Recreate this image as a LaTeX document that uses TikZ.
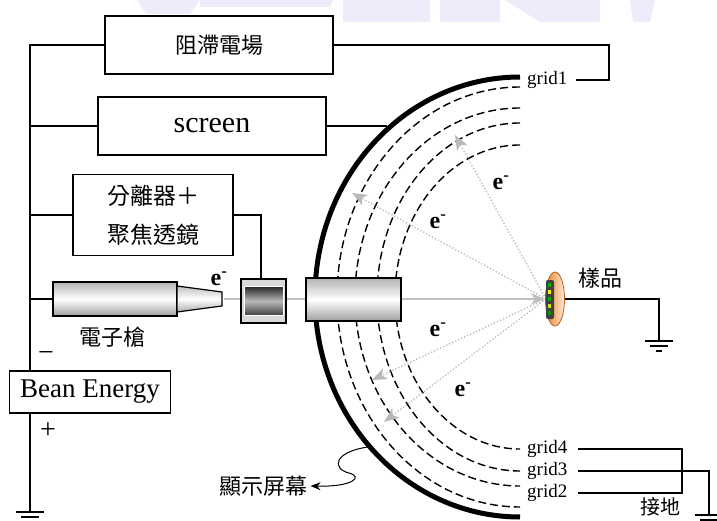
\documentclass[tikz,border=0pt]{standalone}
\usepackage{fontspec}
\setmainfont{Liberation Serif}
\newfontfamily\cjk{Noto Sans CJK TC}
\usetikzlibrary{arrows.meta,shapes.geometric}

\definecolor{amber}{RGB}{238,128,32}
\definecolor{haze}{RGB}{236,236,251}

\begin{document}
\begin{tikzpicture}[x=1pt, y=-1pt,
    box/.style={draw, line width=1.2pt, fill=white, align=center},
    wire/.style={line width=1.2pt},
    lead/.style={wire, shorten <=10pt},
    grid/.style={line width=1.4pt, dash pattern=on 8pt off 4pt},
    cyl/.style={draw, line width=1.2pt, inner sep=0pt, top color=gray!60, bottom color=gray!75, middle color=white},
    beam/.style={draw=gray!50, line width=2pt, -{Stealth[length=14pt, width=11pt, inset=4pt]}},
    ray/.style={draw=gray!55, line width=1.3pt, dotted, -{Stealth[length=15pt, width=12pt, inset=4pt]}},
    elab/.style={font=\fontsize{24}{24}\selectfont\bfseries},
    glab/.style={font=\fontsize{19}{20}\selectfont, anchor=west, inner sep=0pt},
    zh/.style={font=\fontsize{22}{24}\selectfont\cjk},
    gnd/.pic={\draw[wire] (-14,0) -- (14,0) (-9,5) -- (9,5) (-3,10) -- (3,10);}
  ]
  \useasboundingbox (0,0) rectangle (717,521);

  % faded lettering along the top edge
  \fill[haze] (137,0) -- (200,0) -- (190,14) -- (146,14) -- cycle;
  \fill[haze] (200,0) -- (333,0) -- (330,7) -- (200,7) -- cycle;
  \fill[haze] (343,0) -- (430,0) -- (430,22) -- (343,22) -- cycle;
  \fill[haze] (440,0) -- (500,0) -- (500,22) -- (440,22) -- cycle;
  \fill[haze] (505,0) -- (600,0) -- (600,22) -- (540,22) -- cycle;
  \fill[haze] (630,0) -- (655,0) -- (650,22) -- (633,22) -- cycle;

  % screen and the four grids
  \draw[line width=5pt] (520,77) arc[start angle=90, end angle=270, x radius=205pt, y radius=220pt];
  \foreach \rx/\ry in {183/210, 165/189, 143/174, 125/152}
    \draw[grid] (520,297-\ry) arc[start angle=90, end angle=270, x radius=\rx pt, y radius=\ry pt];

  % electron paths
  \coordinate (tip) at (224,299);
  \coordinate (hit) at (546,299);
  \coordinate (t1) at (455,135);
  \coordinate (t2) at (352,193);
  \coordinate (t3) at (372,380);
  \coordinate (t4) at (384,422);
  \foreach \n in {1,...,4}
    \draw[ray] (hit) -- (t\n);

  % sample
  \node[ellipse, draw=amber!75!black, line width=0.8pt, left color=amber, right color=amber!15,
        minimum width=19pt, minimum height=54pt, inner sep=0pt] (smp) at (555,299) {};
  \fill[black!75, rounded corners=2pt] (546,280) rectangle (554,319);
  \foreach \y/\c in {283/green!70!black, 290/yellow, 297/green!70!black, 304/yellow!80!green, 311/green!60!black}
    \fill[\c] (548,\y) rectangle ++(3,4);

  \draw[beam] (tip) -- (smp.west);

  % gun, lens and drift tube
  \node[cyl, minimum width=124pt, minimum height=34pt] (gun) at (115,299) {};
  \draw[line width=1.2pt, top color=gray!50, bottom color=gray!65, middle color=white]
    (177,286) -- (222,292) -- (222,306) -- (177,312) -- cycle;
  \node[draw, line width=1.2pt, fill=gray!30, minimum width=45pt, minimum height=44pt, inner sep=0pt] (lens) at (263.5,301) {};
  \shade[draw=white, line width=1pt, top color=black!85, bottom color=black!75, middle color=gray!55]
    (lens.center) ++(-19.5,-14.5) rectangle ++(39,29);
  \node[cyl, minimum width=95pt, minimum height=43pt] (tube) at (353.5,299.5) {};

  % boxes
  \node[box, zh, minimum width=228pt, minimum height=58pt] (rfa) at (219,45) {阻滯電場};
  \node[box, font=\fontsize{30}{30}\selectfont, minimum width=228pt, minimum height=58pt] (scrbox) at (212,126) {screen};
  \node[box, font=\fontsize{23}{39}\selectfont\cjk, minimum width=160pt, minimum height=81pt] (sep) at (153,215) {分離器＋\\聚焦透鏡};

  % wiring
  \coordinate (busBot) at (30,512);
  \coordinate (r1) at (609,80);
  \coordinate (scrpt) at (387,126);
  \coordinate (lensTop) at (261,279);
  \draw[wire] (rfa.west) -| (busBot);
  \draw[wire] (scrbox.west) -- (scrbox.west -| busBot);
  \draw[wire] (sep.west) -- (sep.west -| busBot);
  \draw[wire] (gun.west) -- (gun.west -| busBot);
  \draw[wire] (scrbox.east) -- (scrpt);
  \draw[wire] (sep.east) -| (lensTop);
  \pic at (busBot) {gnd};

  \node[box, font=\fontsize{27}{27}\selectfont, minimum width=161pt, minimum height=42pt, inner sep=0pt] (beamE) at (90,392) {Bean Energy};
  \node[font=\fontsize{28}{28}\selectfont] (minus) at (46,357) {−};
  \node[font=\fontsize{28}{28}\selectfont] (plus) at (48,431) {+};

  % grid labels and their leads
  \node[glab] (g1) at (527,80) {grid1};
  \node[glab] (g4) at (527,449) {grid4};
  \node[glab] (g3) at (527,471) {grid3};
  \node[glab] (g2) at (527,493) {grid2};
  \coordinate (br) at (682,471);
  \coordinate (gg) at (709,515);
  \draw[wire] (rfa.east) -| (r1) -- ([xshift=8pt]g1.east);
  \draw[lead] (g4.east) -| (br) |- ([xshift=10pt]g2.east);
  \draw[lead] (g3.east) -| (gg);
  \pic at (gg) {gnd};

  % sample ground
  \coordinate (sg) at (659,341);
  \draw[wire] (smp.east) -| (sg);
  \pic at (sg) {gnd};

  % labels
  \node[elab] (e0) at (219,279) {e\textsuperscript{-}};
  \node[elab] (e1) at (501,183) {e\textsuperscript{-}};
  \node[elab] (e2) at (438,222) {e\textsuperscript{-}};
  \node[elab] (e3) at (438,330) {e\textsuperscript{-}};
  \node[elab] (e4) at (463,390) {e\textsuperscript{-}};
  \node[zh] (gunlab) at (112,337) {電子槍};
  \node[zh] (smplab) at (600,278) {樣品};
  \node[zh] (disp) at (263,486) {顯示屏幕};
  \node[zh, font=\fontsize{20}{22}\selectfont\cjk] (earth) at (660,507) {接地};

  \coordinate (scrfoot) at (368,447);
  \draw[line width=1pt, -{Stealth[length=10pt, width=8pt]}]
    (scrfoot) .. controls (333,452) and (332,469) .. (349,473)
              .. controls (364,477) and (352,487) .. (disp.east);
\end{tikzpicture}
\end{document}
